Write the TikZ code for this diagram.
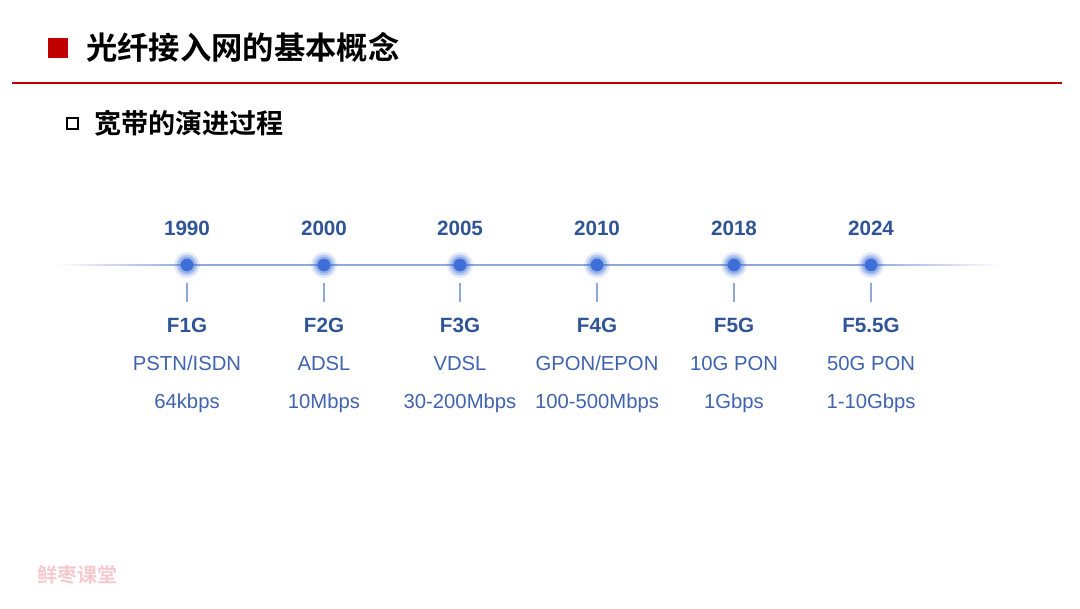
\documentclass[tikz,border=0pt]{standalone}
\usepackage{fontspec}
\setmainfont{Liberation Sans}
\newfontfamily\cjk{Noto Sans CJK SC}
\newfontfamily\cjkb{Noto Sans CJK SC Bold}
\definecolor{titlered}{HTML}{C00000}
\definecolor{yearblue}{HTML}{2F5597}
\definecolor{txtblue}{HTML}{3F63AE}
\definecolor{lineblue}{HTML}{8FA8DC}
\definecolor{dotblue}{HTML}{3D6FD6}
\definecolor{wmpink}{HTML}{F6C9CF}
\begin{document}
\begin{tikzpicture}[x=0.75pt,y=-0.75pt,
  year/.style={font=\fontsize{15.5}{17}\selectfont\bfseries, text=yearblue, inner sep=0pt, text height=11pt, text depth=0pt},
  gen/.style={font=\fontsize{15.5}{17}\selectfont\bfseries, text=yearblue, inner sep=0pt, text height=11pt, text depth=0pt},
  tech/.style={font=\fontsize{15.2}{17}\selectfont, text=txtblue, inner sep=0pt, text height=11pt, text depth=3pt},
  dotnode/.style={circle, fill=dotblue, minimum size=9.5pt, inner sep=0pt},
  tick/.style={draw=lineblue, line width=0.9pt}]
\useasboundingbox (0,0) rectangle (1080,608);
% header
\fill[titlered] (48,38) rectangle (68,58);
\node[anchor=west, inner sep=0pt, font=\cjkb\fontsize{23.5}{26}\selectfont] (title) at (86,47) {光纤接入网的基本概念};
\coordinate (rl) at (12,83);
\coordinate (rr) at (1062,83);
\draw[titlered, line width=1.4pt] (rl) -- (rr);
\draw[black, line width=1.3pt] (67,118) rectangle (78,129);
\node[anchor=west, inner sep=0pt, font=\cjkb\fontsize{20.3}{24}\selectfont] (sub) at (94,123) {宽带的演进过程};
% timeline
\shade[left color=white, right color=lineblue] (55,264.2) rectangle (187,265.8);
\fill[lineblue] (187,264.2) rectangle (871,265.8);
\shade[left color=lineblue, right color=white] (871,264.2) rectangle (1000,265.8);
\foreach \i/\x/\yr/\g/\t/\s in {1/187/1990/F1G/{PSTN/ISDN}/64kbps,
  2/324/2000/F2G/ADSL/10Mbps,
  3/460/2005/F3G/VDSL/30-200Mbps,
  4/597/2010/F4G/{GPON/EPON}/100-500Mbps,
  5/734/2018/F5G/10G PON/1Gbps,
  6/871/2024/F5.5G/50G PON/1-10Gbps}{
  \fill[dotblue, opacity=0.15] (\x,265) circle (13);
  \fill[dotblue, opacity=0.25] (\x,265) circle (10.5);
  \fill[dotblue, opacity=0.3] (\x,265) circle (8.5);
  \node[dotnode] (d\i) at (\x,265) {};
  \node[year] (y\i) at (\x,228.5) {\yr};
  \coordinate (ta\i) at (\x,283);
  \coordinate (tb\i) at (\x,302);
  \draw[tick] (ta\i) -- (tb\i);
  \node[gen] (g\i) at (\x,325) {\g};
  \node[tech] (t\i) at (\x,365) {\t};
  \node[tech] (s\i) at (\x,403) {\s};
}
% watermark
\node[anchor=west, inner sep=0pt, text=wmpink, font=\cjkb\fontsize{15}{18}\selectfont] (wm) at (37,575) {鲜枣课堂};
\end{tikzpicture}
\end{document}
